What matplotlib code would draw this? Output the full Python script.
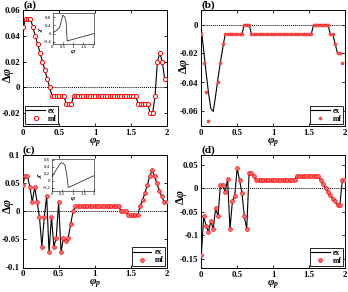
import numpy as np
import matplotlib
matplotlib.use("Agg")
import matplotlib.pyplot as plt

plt.rcParams['font.family'] = ['Liberation Serif', 'DejaVu Serif']
plt.rcParams['font.weight'] = 'bold'
plt.rcParams['axes.unicode_minus'] = False
plt.rcParams['mathtext.fontset'] = 'custom'
plt.rcParams['mathtext.rm'] = 'Liberation Serif:bold'
plt.rcParams['mathtext.it'] = 'Liberation Serif:italic:bold'
plt.rcParams['mathtext.bf'] = 'Liberation Serif:bold'

nan = np.nan
phi_p = np.arange(61) / 30

# panel (a)
mf_a = ([0.0467, 0.0533, 0.0533, 0.0533, 0.0467, 0.04, 0.0333, 0.0267, 0.02, 0.0133, 0.0067, 0.0]
        + [-0.0067] * 6 + [-0.0133] * 3 + [-0.0067] * 27 + [-0.0133] * 5 + [-0.02] * 2
        + [-0.0067, 0.02, 0.0267, 0.02, 0.0067, nan])
ex_a = list(mf_a)

# panel (b)
mf_b = ([-0.0067, -0.0267, -0.0467, -0.0667, nan, nan, nan, -0.04, -0.0267, -0.0133, -0.0067]
        + [-0.0067] * 7 + [0.0] * 3 + [-0.0067] * 26 + [0.0] * 7 + [-0.0067] * 2
        + [-0.0133, -0.02, -0.02, -0.0267, nan])
ex_b = ([-0.003, -0.018, -0.033, -0.047, -0.058, -0.06, -0.049, -0.037, -0.026, -0.016, -0.0067]
        + [-0.0067] * 7 + [0.0] * 3 + [-0.0067] * 26 + [0.0] * 7 + [-0.0067] * 2
        + [-0.0133, -0.02, -0.02, -0.02, nan])

# panel (c)
mf_c = ([0.047, 0.0633, 0.0633, 0.043, 0.017, 0.043, 0.017, -0.01, -0.063, -0.01, 0.027,
         -0.073, -0.01, -0.063, -0.047, 0.017, -0.073, -0.047, -0.053, -0.047, -0.023, 0.0]
        + [0.01] * 19 + [0.0] * 3 + [-0.0067] * 5
        + [0.01, 0.02, 0.033, 0.047, 0.063, 0.073, 0.063, 0.05, 0.037, 0.027, 0.017, 0.017])
ex_c = list(mf_c)

# panel (d)
mf_d = ([-0.143, -0.06, -0.08, -0.093, -0.07, -0.087, -0.043, -0.06, 0.007, 0.007, -0.009,
         0.019, -0.087, -0.028, -0.017, 0.043, 0.017, -0.01, -0.06, -0.087, 0.033, 0.033, 0.025]
        + [0.0183] * 17 + [0.025] * 10
        + [0.017, 0.008, 0.0, -0.008, -0.015, -0.022, -0.028, -0.035, -0.035, 0.017, 0.017])
ex_d = list(mf_d)

# insets: chi(phi)
chi_phi_a = [0, 0.2, 0.35, 0.45, 0.5, 0.6, 0.66, 0.7, 0.72, 2.0]
chi_a = [0.05, 0.15, 0.3, 0.7, 0.9, 0.8, 0.6, -0.1, -0.35, 0.0]
chi_phi_c = [0, 0.2, 0.35, 0.45, 0.55, 0.62, 0.7, 0.78, 2.0]
chi_c = [0.1, 0.3, 0.45, 0.52, 0.5, 0.45, 0.2, -0.2, 0.15]

W, H = 348, 292
fig = plt.figure(figsize=(W / 100, H / 100), dpi=100)


def px_axes(x0, y0, x1, y1):
    return fig.add_axes([x0 / W, 1 - y1 / H, (x1 - x0) / W, (y1 - y0) / H])


def style(ax, yticks, ylim, letter, ylab_xy, xlab_y=-0.092):
    ax.set_xlim(0, 2)
    ax.set_ylim(*ylim)
    ax.set_xticks([0, 0.5, 1, 1.5, 2])
    ax.set_xticklabels(['0', '0.5', '1', '1.5', '2'])
    ax.set_yticks(yticks)
    ax.set_yticklabels(['%g' % t for t in yticks])
    ax.tick_params(direction='in', top=True, right=True, length=2.5, width=0.6,
                   labelsize=6.3, pad=2)
    for s in ax.spines.values():
        s.set_linewidth(0.7)
    ax.axhline(0, color='black', lw=0.7, ls=(0, (1, 1)), zorder=1)
    ax.set_xlabel(r'$\varphi_p$', fontsize=8)
    ax.xaxis.set_label_coords(0.5, xlab_y)
    ax.set_ylabel(r'$\Delta\varphi$', fontsize=8.5, va='center')
    ax.yaxis.set_label_coords(*ylab_xy)
    ax.text(0.0, 1.0, '(%s)' % letter, transform=ax.transAxes, fontsize=8,
            fontweight='bold', ha='left', va='bottom')


def inset(x0, y0, x1, y1, xs, ys, yticks, ylim):
    ins = px_axes(x0, y0, x1, y1)
    ins.plot(xs, ys, color='#333333', lw=0.6)
    ins.set_xlim(0, 2)
    ins.set_ylim(*ylim)
    ins.set_xticks([0, 0.5, 1, 1.5, 2])
    ins.set_xticklabels(['0', '0.5', '1', '1.5', '2'])
    ins.set_yticks(yticks)
    ins.set_yticklabels(['%g' % t for t in yticks])
    ins.tick_params(direction='in', length=1.2, width=0.4, labelsize=3.5, pad=1)
    for lab in ins.get_xticklabels() + ins.get_yticklabels():
        lab.set_fontweight('normal')
    for s in ins.spines.values():
        s.set_linewidth(0.4)
    ins.set_xlabel(r'$\varphi$', fontsize=5, labelpad=-1)
    ins.set_ylabel(r'$\chi$', fontsize=5, labelpad=-1)


leg_kw = dict(fontsize=5.5, frameon=True, fancybox=False, edgecolor='black',
              framealpha=1, handlelength=2.4, borderpad=0.15, labelspacing=0.0,
              handletextpad=0.4, borderaxespad=0.25)

# (a)
ax = px_axes(23.3, 10, 167, 126)
ax.plot(phi_p, ex_a, color='black', lw=0.8, label='ex', zorder=2)
ax.plot(phi_p, mf_a, ls='none', marker='o', ms=3.0, mfc='white', mec='red',
        mew=0.7, label='mf', zorder=3)
style(ax, [-0.02, 0, 0.02, 0.04, 0.06], (-0.03, 0.06), 'a', (-0.105, 0.44))
leg = ax.legend(loc='lower left', **leg_kw)
leg.get_frame().set_linewidth(0.6)
inset(52.5, 13, 93.5, 44, chi_phi_a, chi_a, [-0.4, 0, 0.4, 0.8], (-0.5, 1.0))

# (b)
ax = px_axes(201.3, 10, 344.7, 126)
ax.plot(phi_p, ex_b, color='black', lw=0.8, label='ex', zorder=2)
ax.plot(phi_p, mf_b, ls='none', marker='o', ms=2.3, mfc='#ff4040', mec='#ff4040',
        mew=0.3, label='mf', zorder=3)
style(ax, [-0.06, -0.04, -0.02, 0], (-0.07, 0.01), 'b', (-0.12, 0.52))
leg = ax.legend(loc='lower right', **leg_kw)
leg.get_frame().set_linewidth(0.6)

# (c)
ax = px_axes(22.7, 155.3, 166.5, 267.5)
ax.plot(phi_p, ex_c, color='black', lw=0.8, label='ex', zorder=2)
ax.plot(phi_p, mf_c, ls='none', marker='o', ms=2.7, mfc='#ff7070', mec='red',
        mew=0.5, label='mf', zorder=3)
style(ax, [-0.1, -0.05, 0, 0.05, 0.1], (-0.1, 0.1), 'c', (-0.10, 0.55), -0.093)
leg = ax.legend(loc='lower right', **leg_kw)
leg.get_frame().set_linewidth(0.6)
inset(51.7, 159.3, 94.3, 191, chi_phi_c, chi_c, [-0.2, 0, 0.2, 0.4, 0.6], (-0.3, 0.62))

# (d)
ax = px_axes(201.3, 155.3, 344.7, 268)
ax.plot(phi_p, ex_d, color='black', lw=0.8, label='ex', zorder=2)
ax.plot(phi_p, mf_d, ls='none', marker='o', ms=2.7, mfc='#ff7070', mec='red',
        mew=0.5, label='mf', zorder=3)
style(ax, [-0.15, -0.1, -0.05, 0, 0.05], (-0.17, 0.07), 'd', (-0.135, 0.63), -0.093)
leg = ax.legend(loc='lower right', **leg_kw)
leg.get_frame().set_linewidth(0.6)

fig.savefig('out.png', dpi=100)
